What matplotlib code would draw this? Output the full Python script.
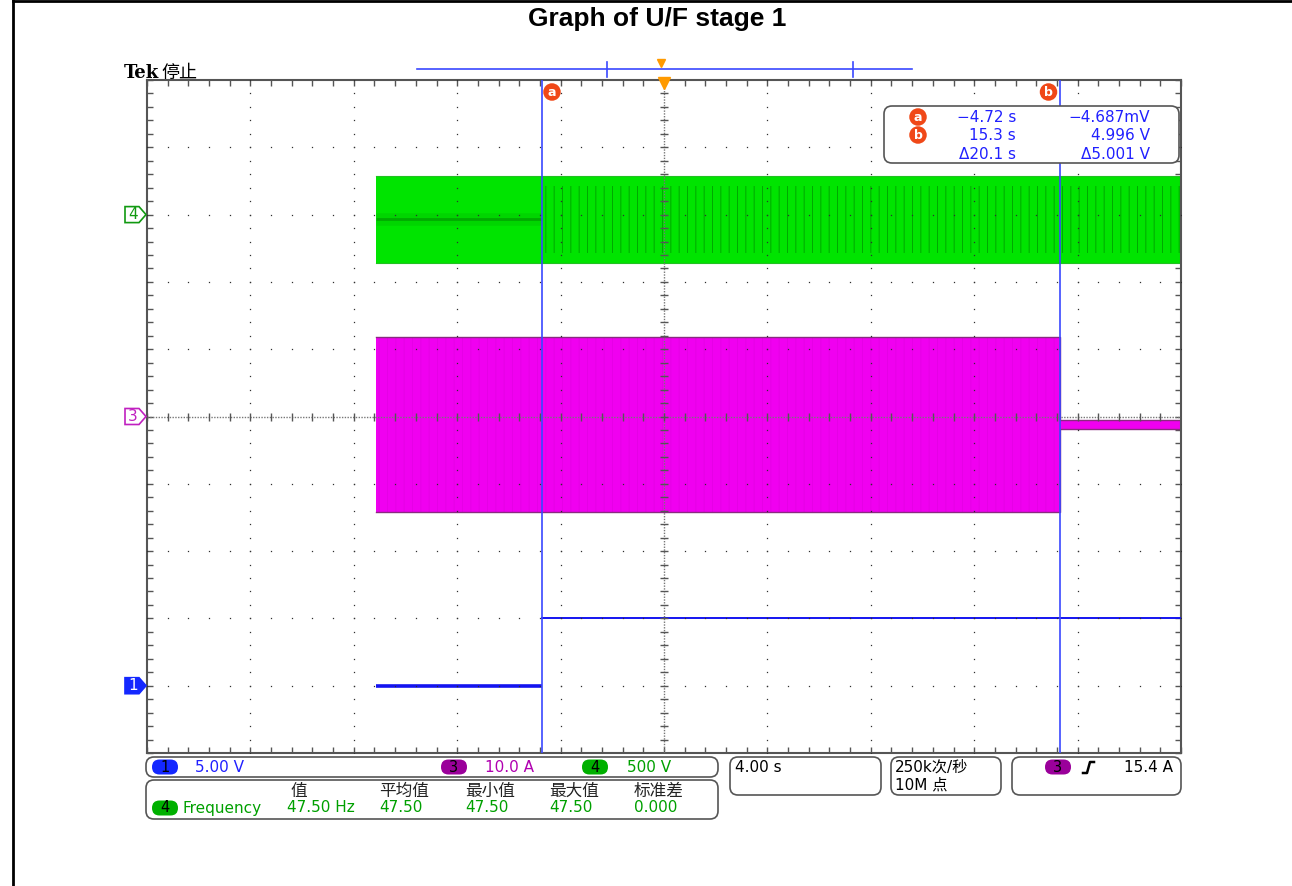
import numpy as np
import matplotlib.pyplot as plt
from matplotlib.patches import FancyBboxPatch, Polygon

plt.rcParams['font.family'] = ['DejaVu Sans', 'Noto Sans CJK SC']
plt.rcParams['hatch.linewidth'] = 0.7

# vertical settings per channel (units/div, position in div)
ch1_scale, ch1_pos = 5.0, -4.0      # V
ch3_scale, ch3_pos = 10.0, 0.0      # A
ch4_scale, ch4_pos = 500.0, 3.0     # V

# channel 1: control step (V)
ch1_t = [-11.14, -4.72, -4.72, 20.0]
ch1_v = [-0.0047, -0.0047, 4.996, 4.996]

# channel 3: phase current envelope (A)
ch3_t = [-11.14, 15.3, 15.3, 20.0]
ch3_hi = [11.8, 11.8, -0.5, -0.5]
ch3_lo = [-14.2, -14.2, -1.9, -1.9]

# channel 4: output voltage envelope (V)
ch4_t = [-11.14, 20.0]
ch4_hi = [290.0, 290.0]
ch4_lo = [-360.0, -360.0]

# cursors
cursor_t = [-4.72, 15.3]
cursor_v = [-4.687e-3, 4.996]
delta_t, delta_v = 20.1, 5.001

# measurement table
meas_headers = ["值", "平均值", "最小值", "最大值", "标准差"]
meas_values = ["47.50 Hz", "47.50", "47.50", "47.50", "0.000"]

BLUE = '#1414f0'
CURSOR = '#3a48ff'
GREEN = '#00e400'
MAGENTA = '#f000f0'
ORANGE = '#ff9a00'
RED_DOT = '#f04818'
TXT_BLUE = '#2020ff'
TXT_PURPLE = '#b000b0'
TXT_GREEN = '#00a000'
FRAME = '#555555'

# screen geometry in pixels
L, R, T, B = 147, 1181, 80, 753
W, H = 1292, 886


def to_div(vals, scale, pos):
    return [v / scale + pos for v in vals]


def minus(s):
    return s.replace('-', '\u2212')


fig = plt.figure(figsize=(W / 100, H / 100), dpi=100)
ax = fig.add_axes([L / W, (H - B) / H, (R - L) / W, (B - T) / H])
ax.set_xlim(-20, 20)
ax.set_ylim(-5, 5)
for s in ax.spines.values():
    s.set_color(FRAME)
    s.set_linewidth(1.5)
ax.set_xticks(np.arange(-20, 20.1, 4))
ax.set_xticks(np.arange(-20, 20.1, 0.8), minor=True)
ax.set_yticks(np.arange(-5, 5.1, 1))
ax.set_yticks(np.arange(-5, 5.01, 0.2), minor=True)
ax.tick_params(which='both', direction='in', length=4, color=FRAME, width=1,
               top=True, right=True, labelbottom=False, labelleft=False)

# graticule dots
for xv in np.arange(-16, 17, 4):
    if xv != 0:
        ys = np.arange(-5, 5.01, 0.2)
        ax.plot(np.full(len(ys), xv), ys, ls='', marker='s', ms=0.9, mew=0,
                color='#303030', zorder=5)
for yv in np.arange(-4, 5, 1):
    if yv != 0:
        xs = np.arange(-20, 20.1, 0.8)
        ax.plot(xs, np.full(len(xs), yv), ls='', marker='s', ms=0.9, mew=0,
                color='#303030', zorder=5)
ax.axhline(0, color='#777777', lw=1, ls=(0, (1, 1)), zorder=5)
ax.axvline(0, color='#777777', lw=1, ls=(0, (1, 1)), zorder=5)
xs = np.arange(-20, 20.1, 0.8)
ax.plot(xs, np.zeros(len(xs)), ls='', marker='|', ms=6, mew=1, color=FRAME, zorder=5)
ys = np.arange(-5, 5.01, 0.2)
ax.plot(np.zeros(len(ys)), ys, ls='', marker='_', ms=6, mew=1, color=FRAME, zorder=5)

# channel 4
hi4, lo4 = to_div(ch4_hi, ch4_scale, ch4_pos), to_div(ch4_lo, ch4_scale, ch4_pos)
ax.fill_between(ch4_t, hi4, lo4, color=GREEN, lw=0, zorder=2)
ax.plot(ch4_t, hi4, color='#22c022', lw=0.8, zorder=2)
ax.plot(ch4_t, lo4, color='#22c022', lw=0.8, zorder=2)
mid4 = (hi4[0] + lo4[0]) / 2
ax.plot([ch4_t[0], cursor_t[0]], [mid4, mid4], color='#006a00', lw=9, alpha=0.12,
        solid_capstyle='butt', zorder=2)
ax.plot([ch4_t[0], cursor_t[0]], [mid4, mid4], color='#005a00', lw=2, alpha=0.35,
        solid_capstyle='butt', zorder=2)
ax.fill_between([cursor_t[0], ch4_t[-1]], mid4 + 0.5, mid4 - 0.5, facecolor='none',
                edgecolor='#00a800', hatch='||', lw=0, zorder=2)

# channel 3
hi3, lo3 = to_div(ch3_hi, ch3_scale, ch3_pos), to_div(ch3_lo, ch3_scale, ch3_pos)
ax.fill_between(ch3_t, hi3, lo3, color=MAGENTA, lw=0, zorder=2)
ax.fill_between(ch3_t[:2], hi3[:2], lo3[:2], facecolor='none', edgecolor='#e600e6',
                hatch='||', lw=0, zorder=2)
ax.plot(ch3_t, hi3, color='#8a2a80', lw=1, zorder=2)
ax.plot(ch3_t, lo3, color='#8a2a80', lw=1, zorder=2)

# channel 1
v1 = to_div(ch1_v, ch1_scale, ch1_pos)
ax.plot(ch1_t[:2], v1[:2], color=BLUE, lw=2.6, solid_capstyle='butt', zorder=3)
ax.plot(ch1_t[2:], v1[2:], color=BLUE, lw=1.4, zorder=3)

# cursors
for t, lab, dx in zip(cursor_t, ['a', 'b'], [10, -11]):
    ax.axvline(t, color=CURSOR, lw=1.2, zorder=6)
    ax.annotate(lab, xy=(t, 5), xytext=(dx, -12), textcoords='offset pixels',
                ha='center', va='center', color='white', fontsize=9, fontweight='bold',
                bbox=dict(boxstyle='circle,pad=0.18', fc=RED_DOT, ec='none'),
                annotation_clip=False, zorder=7)

# trigger position
ax.plot([0], [4.95], marker='v', ms=9, color=ORANGE, clip_on=False, zorder=7)

# overlay for page furniture, in pixels
ui = fig.add_axes([0, 0, 1, 1], zorder=3)
ui.set_xlim(0, W)
ui.set_ylim(H, 0)
ui.axis('off')

ui.plot([13, W], [1, 1], color='black', lw=2)
ui.plot([13, 13], [0, H], color='black', lw=2)
ui.text(657, 19, "Graph of U/F stage 1", ha='center', va='center', fontsize=19,
        fontweight='bold', family='Liberation Sans')

ui.text(124, 78, "Tek", family='DejaVu Serif', fontweight='bold', fontsize=13, va='baseline')
ui.text(161, 78, "停止", family='Noto Sans CJK SC', fontsize=13, va='baseline')

# record overview bar
ui.plot([417, 912], [69, 69], color=CURSOR, lw=1.2)
ui.plot([607, 607], [62, 77], color=CURSOR, lw=1.2)
ui.plot([853, 853], [62, 77], color=CURSOR, lw=1.2)
ui.plot([661], [63], marker='v', ms=6, color=ORANGE)

# channel position tags
mid_y = (T + B) / 2
dpy = (B - T) / 10


def tag(pos, num, color, filled):
    y = mid_y - pos * dpy
    poly = Polygon([(125, y - 8), (139, y - 8), (146, y), (139, y + 8), (125, y + 8)],
                   closed=True, fc=color if filled else 'white', ec=color, lw=1.2)
    ui.add_patch(poly)
    ui.text(133, y, num, ha='center', va='center', fontsize=11,
            color='white' if filled else color)


tag(ch4_pos, '4', '#119911', False)
tag(ch3_pos, '3', '#c020c0', False)
tag(ch1_pos, '1', '#1428ff', True)


def box(x, y, w, h, r=8):
    ui.add_patch(FancyBboxPatch((x, y), w, h, boxstyle=f'round,pad=0,rounding_size={r}',
                                fc='white', ec=FRAME, lw=1.2))


def pill(x, y, num, color):
    ui.add_patch(FancyBboxPatch((x, y - 7.5), 26, 15, boxstyle='round,pad=0,rounding_size=7.5',
                                fc=color, ec='none'))
    ui.text(x + 13, y, num, ha='center', va='center', fontsize=10.5, color='black')


def dot(x, y, lab):
    ui.text(x, y, lab, ha='center', va='center', color='white', fontsize=9, fontweight='bold',
            bbox=dict(boxstyle='circle,pad=0.18', fc=RED_DOT, ec='none'))


# cursor readout
box(884, 106, 295, 57)
rows = [117, 135, 154]
dot(918, rows[0], 'a')
dot(918, rows[1], 'b')
for i in range(2):
    ui.text(1016, rows[i], minus(f"{cursor_t[i]:.3g} s"), ha='right', va='center',
            fontsize=11, color=TXT_BLUE)
    v = cursor_v[i]
    vs = f"{v * 1000:.3f}mV" if abs(v) < 1 else f"{v:.3f} V"
    ui.text(1150, rows[i], minus(vs), ha='right', va='center', fontsize=11, color=TXT_BLUE)
ui.text(1016, rows[2], f"\u0394{delta_t:.1f} s", ha='right', va='center', fontsize=11, color=TXT_BLUE)
ui.text(1150, rows[2], f"\u0394{delta_v:.3f} V", ha='right', va='center', fontsize=11, color=TXT_BLUE)

# channel scale row
box(146, 757, 572, 20)
pill(152, 767, '1', '#1428ff')
ui.text(195, 767, f"{ch1_scale:.2f} V", va='center', fontsize=11, color=TXT_BLUE)
pill(441, 767, '3', '#9a009a')
ui.text(485, 767, f"{ch3_scale:.1f} A", va='center', fontsize=11, color=TXT_PURPLE)
pill(582, 767, '4', '#00b000')
ui.text(627, 767, f"{ch4_scale:.0f} V", va='center', fontsize=11, color=TXT_GREEN)

# measurement table
box(146, 780, 572, 39)
cols = [287, 379, 465, 549, 634]
ui.text(290, 791, meas_headers[0], va='center', fontsize=12, color='#222222')
for x, h in zip(cols[1:], meas_headers[1:]):
    ui.text(x, 791, h, va='center', fontsize=12, color='#222222')
pill(152, 808, '4', '#00b000')
ui.text(183, 808, "Frequency", va='center', fontsize=11, color=TXT_GREEN)
for x, v in zip(cols, meas_values):
    ui.text(x, 808, v, va='center', fontsize=11, color=TXT_GREEN)

# timebase, sample rate, trigger
box(730, 757, 151, 38)
ui.text(735, 767, "4.00 s", va='center', fontsize=11, color='black')
box(891, 757, 110, 38)
ui.text(895, 767, "250k次/秒", va='center', fontsize=11, color='black')
ui.text(895, 785, "10M 点", va='center', fontsize=11, color='black')
box(1012, 757, 169, 38)
pill(1045, 767, '3', '#9a009a')
ui.plot([1083, 1087, 1090, 1094], [773, 773, 762, 762], color='black', lw=1.8)
ui.text(1173, 767, "15.4 A", ha='right', va='center', fontsize=11, color='black')

fig.savefig('out.png', dpi=100)
